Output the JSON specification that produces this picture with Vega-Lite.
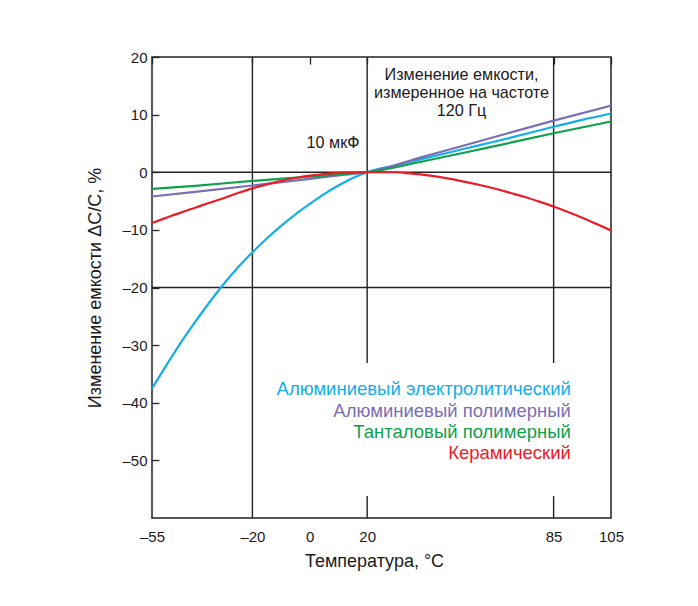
{
  "$schema": "https://vega.github.io/schema/vega-lite/v6.json",
  "width": 459,
  "height": 461,
  "autosize": {"type": "none"},
  "padding": {"left": 152, "top": 57, "right": 87, "bottom": 88},
  "background": "white",
  "config": {
    "view": {"stroke": "#222222", "strokeWidth": 1.5},
    "font": "Liberation Sans",
    "axis": {"labelFont": "Liberation Sans", "titleFont": "Liberation Sans", "labelColor": "#1a1a1a", "titleColor": "#1a1a1a", "titleFontWeight": "normal", "domain": false, "ticks": false,
      "grid": true, "gridColor": "#222222", "gridWidth": 1.3, "gridOpacity": 1, "gridDash": [7, 2000]}
  },
  "datasets": {
    "curves": [
      {"t": -55, "v": -37.5, "s": "Алюминиевый электролитический"},
      {"t": -50, "v": -33.5, "s": "Алюминиевый электролитический"},
      {"t": -45, "v": -29.6, "s": "Алюминиевый электролитический"},
      {"t": -40, "v": -26.0, "s": "Алюминиевый электролитический"},
      {"t": -35, "v": -22.6, "s": "Алюминиевый электролитический"},
      {"t": -30, "v": -19.4, "s": "Алюминиевый электролитический"},
      {"t": -25, "v": -16.5, "s": "Алюминиевый электролитический"},
      {"t": -20, "v": -13.9, "s": "Алюминиевый электролитический"},
      {"t": -15, "v": -11.5, "s": "Алюминиевый электролитический"},
      {"t": -10, "v": -9.3, "s": "Алюминиевый электролитический"},
      {"t": -5, "v": -7.3, "s": "Алюминиевый электролитический"},
      {"t": 0, "v": -5.5, "s": "Алюминиевый электролитический"},
      {"t": 5, "v": -3.8, "s": "Алюминиевый электролитический"},
      {"t": 10, "v": -2.3, "s": "Алюминиевый электролитический"},
      {"t": 15, "v": -1.0, "s": "Алюминиевый электролитический"},
      {"t": 20, "v": 0, "s": "Алюминиевый электролитический"},
      {"t": 30, "v": 1.2, "s": "Алюминиевый электролитический"},
      {"t": 40, "v": 2.4, "s": "Алюминиевый электролитический"},
      {"t": 50, "v": 3.6, "s": "Алюминиевый электролитический"},
      {"t": 60, "v": 4.8, "s": "Алюминиевый электролитический"},
      {"t": 70, "v": 6.0, "s": "Алюминиевый электролитический"},
      {"t": 85, "v": 7.9, "s": "Алюминиевый электролитический"},
      {"t": 95, "v": 9.1, "s": "Алюминиевый электролитический"},
      {"t": 105, "v": 10.2, "s": "Алюминиевый электролитический"},
      {"t": -55, "v": -4.2, "s": "Алюминиевый полимерный"},
      {"t": -40, "v": -3.4, "s": "Алюминиевый полимерный"},
      {"t": -20, "v": -2.3, "s": "Алюминиевый полимерный"},
      {"t": 0, "v": -1.15, "s": "Алюминиевый полимерный"},
      {"t": 10, "v": -0.55, "s": "Алюминиевый полимерный"},
      {"t": 20, "v": 0, "s": "Алюминиевый полимерный"},
      {"t": 40, "v": 2.75, "s": "Алюминиевый полимерный"},
      {"t": 60, "v": 5.5, "s": "Алюминиевый полимерный"},
      {"t": 85, "v": 8.96, "s": "Алюминиевый полимерный"},
      {"t": 105, "v": 11.56, "s": "Алюминиевый полимерный"},
      {"t": -55, "v": -2.9, "s": "Танталовый полимерный"},
      {"t": -40, "v": -2.35, "s": "Танталовый полимерный"},
      {"t": -20, "v": -1.5, "s": "Танталовый полимерный"},
      {"t": 0, "v": -0.75, "s": "Танталовый полимерный"},
      {"t": 10, "v": -0.37, "s": "Танталовый полимерный"},
      {"t": 20, "v": 0, "s": "Танталовый полимерный"},
      {"t": 40, "v": 1.95, "s": "Танталовый полимерный"},
      {"t": 60, "v": 4.05, "s": "Танталовый полимерный"},
      {"t": 85, "v": 6.76, "s": "Танталовый полимерный"},
      {"t": 105, "v": 8.8, "s": "Танталовый полимерный"},
      {"t": -55, "v": -8.8, "s": "Керамический"},
      {"t": -50, "v": -7.9, "s": "Керамический"},
      {"t": -45, "v": -7.0, "s": "Керамический"},
      {"t": -40, "v": -6.15, "s": "Керамический"},
      {"t": -35, "v": -5.3, "s": "Керамический"},
      {"t": -30, "v": -4.5, "s": "Керамический"},
      {"t": -25, "v": -3.6, "s": "Керамический"},
      {"t": -20, "v": -2.8, "s": "Керамический"},
      {"t": -15, "v": -2.1, "s": "Керамический"},
      {"t": -10, "v": -1.5, "s": "Керамический"},
      {"t": -5, "v": -1.0, "s": "Керамический"},
      {"t": 0, "v": -0.6, "s": "Керамический"},
      {"t": 5, "v": -0.3, "s": "Керамический"},
      {"t": 10, "v": -0.12, "s": "Керамический"},
      {"t": 15, "v": -0.03, "s": "Керамический"},
      {"t": 20, "v": 0, "s": "Керамический"},
      {"t": 25, "v": 0.03, "s": "Керамический"},
      {"t": 30, "v": 0, "s": "Керамический"},
      {"t": 35, "v": -0.2, "s": "Керамический"},
      {"t": 40, "v": -0.45, "s": "Керамический"},
      {"t": 45, "v": -0.8, "s": "Керамический"},
      {"t": 50, "v": -1.25, "s": "Керамический"},
      {"t": 55, "v": -1.75, "s": "Керамический"},
      {"t": 60, "v": -2.3, "s": "Керамический"},
      {"t": 65, "v": -2.9, "s": "Керамический"},
      {"t": 70, "v": -3.6, "s": "Керамический"},
      {"t": 75, "v": -4.3, "s": "Керамический"},
      {"t": 80, "v": -5.1, "s": "Керамический"},
      {"t": 85, "v": -5.95, "s": "Керамический"},
      {"t": 90, "v": -6.9, "s": "Керамический"},
      {"t": 95, "v": -7.9, "s": "Керамический"},
      {"t": 100, "v": -9.0, "s": "Керамический"},
      {"t": 105, "v": -10.1, "s": "Керамический"}
    ],
    "vgrid": [
      {"gx": -20, "gy": 20, "gy2": -60},
      {"gx": 20, "gy": 20, "gy2": -33.1},
      {"gx": 20, "gy": -56.2, "gy2": -60},
      {"gx": 85, "gy": 20, "gy2": -33.1},
      {"gx": 85, "gy": -56.2, "gy2": -60}
    ],
    "hgrid": [
      {"hy": 0, "hx": -55, "hx2": 105},
      {"hy": -20, "hx": -55, "hx2": 105}
    ],
    "keys": [
      {"label": "Алюминиевый электролитический", "s": "Алюминиевый электролитический", "lx": 91, "ly": -37.6},
      {"label": "Алюминиевый полимерный", "s": "Алюминиевый полимерный", "lx": 91, "ly": -41.4},
      {"label": "Танталовый полимерный", "s": "Танталовый полимерный", "lx": 91, "ly": -45.1},
      {"label": "Керамический", "s": "Керамический", "lx": 91, "ly": -48.7}
    ],
    "notes": [
      {"note": "Изменение емкости,", "nx": 52.9, "ny": 16.88},
      {"note": "измеренное на частоте", "nx": 52.9, "ny": 13.75},
      {"note": "120 Гц", "nx": 52.9, "ny": 10.63},
      {"note": "10 мкФ", "nx": 8.1, "ny": 5.16}
    ]
  },
  "layer": [
    {
      "data": {"name": "vgrid"},
      "mark": {"type": "rule", "color": "#222222", "strokeWidth": 1.4},
      "encoding": {
        "x": {"field": "gx", "type": "quantitative", "scale": {"domain": [-55, 105], "nice": false, "zero": false},
          "axis": {"values": [-55, -20, 0, 20, 85, 105], "labelFlush": false, "labelFontSize": 15, "labelPadding": 11, "title": "Температура, °С", "titleFontSize": 18, "titlePadding": 8, "titleX": 222,
            "labelExpr": "datum.value < 0 ? '–' + format(-datum.value, 'd') : datum.label"}},
        "y": {"field": "gy", "type": "quantitative", "scale": {"domain": [-60, 20], "nice": false, "zero": false},
          "axis": {"values": [20, 10, 0, -10, -20, -30, -40, -50], "labelFontSize": 15, "labelPadding": 5, "title": "Изменение емкости ΔС/С, %", "titleFontSize": 18, "titlePadding": 17,
            "labelExpr": "datum.value < 0 ? '–' + format(-datum.value, 'd') : datum.label"}},
        "y2": {"field": "gy2"}
      }
    },
    {
      "data": {"name": "hgrid"},
      "mark": {"type": "rule", "color": "#222222", "strokeWidth": 1.4},
      "encoding": {
        "y": {"field": "hy", "type": "quantitative"},
        "x": {"field": "hx", "type": "quantitative"},
        "x2": {"field": "hx2"}
      }
    },
    {
      "data": {"name": "curves"},
      "mark": {"type": "line", "strokeWidth": 2.2, "interpolate": "monotone"},
      "encoding": {
        "x": {"field": "t", "type": "quantitative"},
        "y": {"field": "v", "type": "quantitative"},
        "color": {"field": "s", "type": "nominal", "legend": null,
          "scale": {"domain": ["Алюминиевый электролитический", "Алюминиевый полимерный", "Танталовый полимерный", "Керамический"], "range": ["#12aee8", "#7b6db6", "#0fa04c", "#ec1c27"]}},
        "detail": {"field": "s"}
      }
    },
    {
      "data": {"name": "keys"},
      "mark": {"type": "text", "align": "right", "baseline": "middle", "fontSize": 18.5, "font": "Liberation Sans"},
      "encoding": {
        "x": {"field": "lx", "type": "quantitative"},
        "y": {"field": "ly", "type": "quantitative"},
        "text": {"field": "label"},
        "color": {"field": "s", "type": "nominal", "legend": null}
      }
    },
    {
      "data": {"name": "notes"},
      "mark": {"type": "text", "align": "center", "baseline": "middle", "fontSize": 16.2, "font": "Liberation Sans", "color": "#1a1a1a"},
      "encoding": {
        "x": {"field": "nx", "type": "quantitative"},
        "y": {"field": "ny", "type": "quantitative"},
        "text": {"field": "note"}
      }
    }
  ]
}
